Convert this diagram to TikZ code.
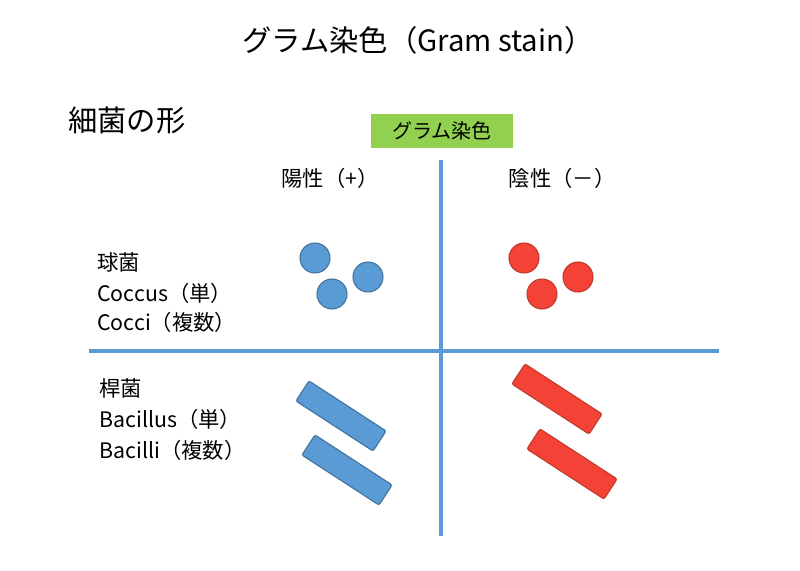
\documentclass[tikz,border=0pt]{standalone}
\usepackage{fontspec}
\setmainfont{Noto Sans CJK JP}
\begin{document}
\begin{tikzpicture}[x=0.75pt,y=-0.75pt]
\definecolor{bl}{HTML}{5B9BD5}\definecolor{bld}{HTML}{41719C}
\definecolor{rd}{HTML}{F44336}\definecolor{rdd}{HTML}{C0392B}
\definecolor{gr}{HTML}{92D050}
\tikzset{bcirc/.style={circle,fill=bl,draw=bld,line width=0.8pt,minimum size=22.5pt,inner sep=0pt},
rcirc/.style={circle,fill=rd,draw=rdd,line width=0.8pt,minimum size=22.5pt,inner sep=0pt},
brod/.style={rectangle,rounded corners=1.5pt,fill=bl,draw=bld,line width=0.8pt,minimum width=69pt,minimum height=18pt,rotate=-33},
rrod/.style={rectangle,rounded corners=1.5pt,fill=rd,draw=rdd,line width=0.8pt,minimum width=69pt,minimum height=18pt,rotate=-33},
axis/.style={bl,line width=3pt},
lbl/.style={anchor=west,font=\fontsize{16}{18}\selectfont,inner sep=0pt}}
\useasboundingbox (0,0) rectangle (800,571);
\node[font=\fontsize{22}{24}\selectfont] (title) at (418,40) {グラム染色（Gram stain）};
\node[anchor=west,font=\fontsize{22}{24}\selectfont,inner sep=0pt] (shape) at (68,120) {細菌の形};
\node[fill=gr,minimum width=107pt,minimum height=25pt,inner sep=0pt,font=\fontsize{15}{17}\selectfont] (gs) at (442,131) {グラム染色};
\coordinate (vt) at (441,160); \coordinate (vb) at (441,536);
\coordinate (hl) at (89,351); \coordinate (hr) at (719,351);
\draw[axis] (vt) -- (vb); \draw[axis] (hl) -- (hr);
\node[font=\fontsize{16}{18}\selectfont] (pos) at (330,178) {陽性（+）};
\node[font=\fontsize{16}{18}\selectfont] (neg) at (562,178) {陰性（－）};
\node[lbl] (c1) at (97,262) {球菌};
\node[lbl] (c2) at (97,293) {Coccus（単）};
\node[lbl] (c3) at (97,322) {Cocci（複数）};
\node[lbl] (b1) at (99,388) {桿菌};
\node[lbl] (b2) at (99,419) {Bacillus（単）};
\node[lbl] (b3) at (99,450) {Bacilli（複数）};
\node[bcirc] (bc1) at (315,258) {}; \node[bcirc] (bc2) at (368,277) {}; \node[bcirc] (bc3) at (332,294) {};
\node[rcirc] (rc1) at (524,258) {}; \node[rcirc] (rc2) at (578,277) {}; \node[rcirc] (rc3) at (542,294) {};
\node[brod] (br1) at (341,416) {}; \node[brod] (br2) at (347,470) {};
\node[rrod] (rr1) at (557,399) {}; \node[rrod] (rr2) at (572,464) {};
\end{tikzpicture}
\end{document}
